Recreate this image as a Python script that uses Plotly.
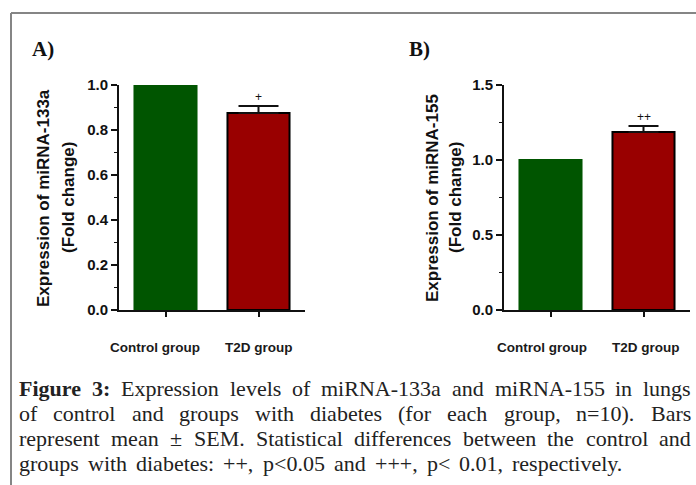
import plotly.graph_objects as go

# ---- data ----
categories = ["Control group", "T2D group"]
mir133a_mean = [1.0, 0.876]
mir133a_sem = [0.0, 0.031]
mir155_mean = [1.0, 1.186]
mir155_sem = [0.0, 0.040]
sig_a = ["", "+"]
sig_b = ["", "++"]
yticks_a = [0.0, 0.2, 0.4, 0.6, 0.8, 1.0]
yticks_b = [0.0, 0.5, 1.0, 1.5]
caption_bold = "Figure 3:"
caption_lines = [
    "Figure 3: Expression levels of miRNA-133a and miRNA-155 in lungs",
    "of control and groups with diabetes (for each group, n=10). Bars",
    "represent mean ± SEM. Statistical differences between the control and",
    "groups with diabetes: ++, p<0.05 and +++, p< 0.01, respectively.",
]

W, H = 696, 485
def px(x):
    return x / W
def py(y):
    return 1 - y / H

bar_colors = ["#005500", "#990000"]
line_colors = ["#005500", "#000000"]

fig = go.Figure()

panels = [
    dict(mean=mir133a_mean, sem=mir133a_sem, sig=sig_a, xa="x", ya="y", capw=20),
    dict(mean=mir155_mean, sem=mir155_sem, sig=sig_b, xa="x2", ya="y2", capw=15),
]
for p in panels:
    for i, cat in enumerate(categories):
        err = None
        if p["sem"][i] > 0:
            err = dict(type="data", array=[p["sem"][i]], arrayminus=[0], symmetric=False,
                       color="#111111", thickness=2, width=p["capw"])
        fig.add_trace(go.Bar(
            x=[cat], y=[p["mean"][i]], xaxis=p["xa"], yaxis=p["ya"],
            width=0.667, marker=dict(color=bar_colors[i], line=dict(color=line_colors[i], width=2)),
            error_y=err, showlegend=False, cliponaxis=False, hoverinfo="skip",
        ))

axis_common = dict(showgrid=False, zeroline=False, showline=True, linecolor="#111111", linewidth=2,
                   ticks="outside", tickcolor="#111111", tickwidth=2, fixedrange=True,
                   automargin=False)
tickfont = dict(size=15, family="Liberation Sans, Arial", weight="bold", color="#111111")

fig.update_layout(
    template="none",
    width=W, height=H, margin=dict(l=0, r=0, t=0, b=0, pad=0, autoexpand=False),
    paper_bgcolor="white", plot_bgcolor="white", barmode="overlay",
    font=dict(family="Liberation Sans, Arial", color="#111111"),
    xaxis=dict(domain=[px(119), px(305)], anchor="y", type="category",
               categoryorder="array", categoryarray=categories, range=[-0.5, 1.5],
               ticklen=5, showticklabels=False, **axis_common),
    yaxis=dict(domain=[py(310), py(85)], anchor="x", range=[0, 1.0], tickvals=yticks_a,
               ticktext=[f"{v:.1f}" for v in yticks_a], ticklen=6, tickfont=tickfont,
               minor=dict(dtick=0.1, ticks="outside", ticklen=3, tickcolor="#111111", tickwidth=1.5),
               **axis_common),
    xaxis2=dict(domain=[px(504), px(690)], anchor="y2", type="category",
                categoryorder="array", categoryarray=categories, range=[-0.5, 1.5],
                ticklen=5, showticklabels=False, **axis_common),
    yaxis2=dict(domain=[py(310), py(85)], anchor="x2", range=[0, 1.5], tickvals=yticks_b,
                ticktext=[f"{v:.1f}" for v in yticks_b], ticklen=6, tickfont=tickfont,
                minor=dict(dtick=0.25, ticks="outside", ticklen=3, tickcolor="#111111", tickwidth=1.5),
                **axis_common),
)

ann = []
# category labels
cat_shift = {("x", 0): -11, ("x", 1): 0, ("x2", 0): -9, ("x2", 1): 2}
for xa in ["x", "x2"]:
    for i, cat in enumerate(categories):
        ann.append(dict(xref=xa, yref="paper", x=cat, y=py(347), text=f"<b>{cat}</b>",
                        showarrow=False, xanchor="center", yanchor="middle",
                        xshift=cat_shift[(xa, i)],
                        font=dict(size=13.5, family="Liberation Sans, Arial", color="#1a1a1a")))
# significance marks
for p in panels:
    for i, cat in enumerate(categories):
        if p["sig"][i]:
            ann.append(dict(xref=p["xa"], yref=p["ya"], x=cat, y=p["mean"][i] + p["sem"][i],
                            text=p["sig"][i], showarrow=False, yanchor="bottom", yshift=0,
                            font=dict(size=12, family="Liberation Sans, Arial", color="#111111")))
# y-axis titles (two lines each)
ytitles = [("Expression of miRNA-133a", "(Fold change)", 43, 68),
           ("Expression of miRNA-155", "(Fold change)", 432, 455)]
for l1, l2, x1, x2 in ytitles:
    for txt, xx in [(l1, x1), (l2, x2)]:
        ann.append(dict(xref="paper", yref="paper", x=px(xx), y=py(198), text=f"<b>{txt}</b>",
                        textangle=-90, showarrow=False, xanchor="center", yanchor="middle",
                        font=dict(size=17, family="Liberation Sans, Arial", color="#111111")))
# panel letters
for lab, xx in [("A)", 30), ("B)", 407)]:
    ann.append(dict(xref="paper", yref="paper", x=px(xx), y=py(49), text=f"<b>{lab}</b>",
                    showarrow=False, xanchor="left", yanchor="middle",
                    font=dict(size=21, family="Liberation Serif, Times New Roman", color="#111111")))

# caption: justified by placing words (Times metrics, 1/1000 em)
TW = {' ': 250, 'a': 444, 'b': 500, 'c': 444, 'd': 500, 'e': 444, 'f': 333, 'g': 500, 'h': 500,
      'i': 278, 'j': 278, 'k': 500, 'l': 278, 'm': 778, 'n': 500, 'o': 500, 'p': 500, 'q': 500,
      'r': 333, 's': 389, 't': 278, 'u': 500, 'v': 500, 'w': 722, 'x': 500, 'y': 500, 'z': 444,
      'A': 722, 'B': 667, 'C': 667, 'D': 722, 'E': 611, 'F': 556, 'G': 722, 'H': 722, 'I': 333,
      'M': 889, 'N': 722, 'R': 667, 'S': 556, 'T': 611, '.': 250, ',': 250, ':': 278, '(': 333,
      ')': 333, '-': 333, '=': 564, '+': 564, '<': 564, '±': 564}
TWB = {'F': 611, 'i': 278, 'g': 500, 'u': 556, 'r': 444, 'e': 444, '3': 500, ':': 333}
def wwidth(word, size, bold=False):
    tab = TWB if bold else TW
    return sum(tab.get(ch, 500) for ch in word) * size / 1000.0

cap_size = 22
cap_left = 18
cap_right = [690, 690, 690, 623]
cap_center_y = [388, 413, 438, 463]
bold_words = caption_bold.split()
for k, line in enumerate(caption_lines):
    words = line.split()
    flags = [k == 0 and j < len(bold_words) and w == bold_words[j] for j, w in enumerate(words)]
    widths = [wwidth(w, cap_size, b) for w, b in zip(words, flags)]
    gap = (cap_right[k] - cap_left - sum(widths)) / (len(words) - 1)
    x = cap_left
    for w, b, wd in zip(words, flags, widths):
        txt = f"<b>{w}</b>" if b else w
        ann.append(dict(xref="paper", yref="paper", x=px(x), y=py(cap_center_y[k]), text=txt,
                        showarrow=False, xanchor="left", yanchor="middle", borderpad=0,
                        font=dict(size=cap_size, family="Liberation Serif, Times New Roman",
                                  color="#222222")))
        x += wd + gap
fig.update_layout(annotations=ann)

# frame
fig.add_shape(type="line", xref="paper", yref="paper", x0=px(11), y0=py(13), x1=1, y1=py(13),
              line=dict(color="#858585", width=2))
fig.add_shape(type="line", xref="paper", yref="paper", x0=px(11), y0=py(13), x1=px(11), y1=0,
              line=dict(color="#858585", width=2))

fig.write_html("out.html", config={"displayModeBar": False, "staticPlot": True},
               post_script="document.body.style.margin='0';document.documentElement.style.overflow='hidden';")
